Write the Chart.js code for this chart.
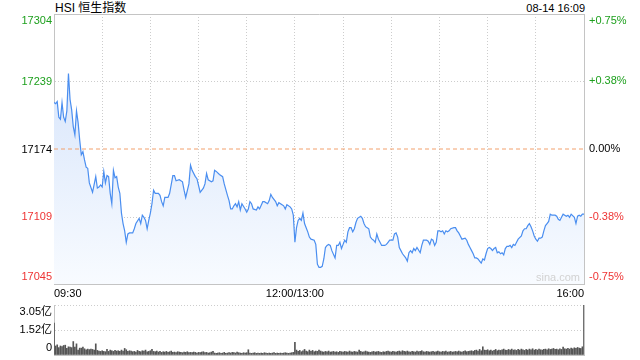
<!DOCTYPE html>
<html><head><meta charset="utf-8">
<script src="https://cdn.jsdelivr.net/npm/chart.js@4.4.0/dist/chart.umd.min.js"></script>
<style>
html,body{margin:0;padding:0;background:#fff;width:640px;height:360px;overflow:hidden;}
#wrap{position:relative;width:640px;height:360px;font-family:"Liberation Sans","Noto Sans CJK SC",sans-serif;}
canvas{position:absolute;left:0;}
#title{position:absolute;left:55px;top:1px;font-size:12px;line-height:14px;color:#000;white-space:nowrap;}
#stamp{position:absolute;right:55px;top:2px;font-size:11px;line-height:13px;color:#000;white-space:nowrap;}
#mark{position:absolute;left:536px;top:271px;font-size:11px;line-height:13px;color:#d2d2d2;}
</style></head>
<body><div id="wrap">
<div id="title">HSI 恒生指数</div>
<div id="stamp">08-14 16:09</div>
<canvas id="main" width="640" height="300" style="top:0"></canvas>
<canvas id="vol" width="640" height="60" style="top:300px"></canvas>
<div id="mark">sina.com</div>
</div>
<script>
// ---- data ----
const prevClose = 17174.5;
const priceTicks = [17045, 17109, 17174, 17239, 17304];
const pctTicks = [-0.75, -0.38, 0, 0.38, 0.75];
const pctLabels = ['-0.75%', '-0.38%', '0.00%', '+0.38%', '+0.75%'];
const timeTicks = [0, 30, 60, 90, 120, 150, 180, 210, 240, 270, 300, 330];
const timeLabelAt = [0, 150, 330];
const timeLabels = ['09:30', '12:00/13:00', '16:00'];
const volTicks = [0, 1.52, 3.05];
const volLabels = ['0', '1.52亿', '3.05亿'];

// [minute since 09:30 (trading minutes), index level]
const morning = [
[0,17219],[1,17218],[2,17220],[3,17205],[4,17203],[5,17219],[6,17205],[7,17201],[8,17211],[9,17247],
[10,17222],[11,17212],[12,17196],[13,17188],[14,17211],[15,17200],[16,17183],[17,17169],[18,17172],[19,17164],
[20,17157],[21,17156],[22,17142],[24,17133],[26,17148],[27,17137],[28,17138],[29,17140],[30,17138],[31,17153],
[32,17142],[33,17149],[34,17148],[35,17132],[36,17122],[37,17154],[38,17147],[39,17148],[40,17138],[41,17132],
[42,17113],[43,17103],[44,17096],[45,17085],[46,17093],[47,17094],[49,17094],[50,17098],[51,17103],[53,17108],
[54,17103],[55,17111],[56,17109],[57,17106],[58,17098],[59,17106],[60,17113],[61,17122],[62,17135],[63,17132],
[65,17132],[66,17130],[67,17124],[68,17120],[69,17128],[71,17128],[72,17132],[74,17149],[75,17149],[76,17144],
[78,17145],[80,17143],[81,17135],[82,17128],[84,17141],[85,17159],[86,17154],[88,17148],[89,17146],[91,17133],
[93,17137],[94,17141],[95,17151],[96,17145],[98,17143],[99,17144],[100,17154],[101,17153],[103,17150],[105,17148],
[106,17141],[108,17130],[109,17125],[110,17117],[111,17117],[112,17120],[113,17122],[114,17119],[115,17124],[116,17116],
[117,17122],[119,17117],[120,17114],[121,17117],[122,17124],[123,17122],[124,17117],[126,17116],[127,17119],[128,17117],
[130,17124],[131,17124],[133,17122],[134,17125],[135,17131],[136,17128],[138,17124],[139,17120],[140,17123],[142,17121],
[143,17120],[144,17117],[145,17121],[147,17119],[148,17117],[149,17111]
];
const afternoon = [
[150,17085],[151,17099],[152,17106],[153,17108],[154,17106],[155,17113],[156,17103],[157,17099],[158,17095],[159,17090],
[160,17088],[162,17087],[163,17083],[164,17064],[165,17061],[166,17061],[167,17062],[168,17069],[169,17080],[170,17082],
[171,17083],[172,17082],[173,17077],[175,17070],[176,17082],[177,17082],[178,17085],[179,17079],[180,17083],[181,17087],
[182,17085],[183,17095],[184,17099],[185,17099],[186,17095],[187,17098],[188,17104],[189,17108],[191,17110],[192,17108],
[193,17103],[194,17100],[195,17099],[196,17098],[197,17090],[198,17088],[199,17087],[200,17085],[201,17093],[202,17088],
[203,17085],[204,17082],[206,17082],[207,17083],[208,17085],[209,17087],[211,17087],[212,17093],[213,17094],[214,17090],
[215,17080],[216,17077],[217,17074],[219,17070],[220,17067],[221,17075],[222,17077],[223,17075],[224,17079],[225,17077],
[226,17080],[228,17075],[229,17082],[230,17087],[231,17087],[232,17087],[233,17086],[234,17083],[235,17088],[236,17087],
[237,17082],[238,17085],[239,17096],[240,17096],[241,17095],[242,17096],[243,17093],[244,17096],[245,17095],[246,17096],
[247,17098],[249,17099],[250,17099],[251,17096],[252,17094],[253,17091],[254,17088],[256,17089],[257,17087],[258,17083],
[259,17080],[260,17077],[261,17074],[262,17070],[263,17070],[264,17069],[265,17067],[266,17065],[267,17069],[268,17068],
[269,17074],[270,17079],[271,17080],[272,17079],[273,17077],[274,17079],[275,17080],[276,17075],[277,17076],[278,17074],
[279,17075],[280,17073],[281,17079],[282,17081],[283,17081],[284,17082],[285,17080],[286,17083],[287,17082],[288,17085],
[289,17088],[291,17091],[292,17096],[293,17098],[294,17098],[295,17101],[296,17103],[297,17100],[298,17096],[299,17091],
[300,17088],[301,17086],[302,17089],[303,17089],[304,17090],[305,17096],[306,17101],[307,17103],[308,17105],[309,17112],
[310,17111],[311,17111],[312,17111],[313,17110],[314,17107],[315,17106],[316,17109],[317,17112],[318,17111],[319,17110],
[320,17111],[321,17109],[322,17112],[324,17109],[325,17103],[326,17110],[327,17111],[328,17110],[329,17112],[330,17112]
];

// volume per minute, 亿 (minutes 0..149, then 150..330)
const volAM = [
1.95,0.55,0.62,0.45,0.55,0.52,0.58,0.60,0.40,0.50,
0.48,0.45,0.82,0.48,0.68,0.30,0.42,0.42,0.48,0.38,
0.32,0.36,0.33,0.36,0.34,0.30,0.68,0.28,0.24,0.22,
0.26,0.22,0.20,0.34,0.22,0.30,0.26,0.22,0.28,0.24,
0.26,0.22,0.30,0.24,0.40,0.32,0.22,0.26,0.24,0.20,
0.22,0.18,0.28,0.22,0.20,0.26,0.24,0.30,0.20,0.22,
0.26,0.34,0.22,0.20,0.24,0.18,0.22,0.16,0.20,0.18,
0.22,0.16,0.20,0.24,0.16,0.18,0.15,0.20,0.18,0.16,
0.14,0.18,0.16,0.20,0.14,0.16,0.14,0.18,0.16,0.12,
0.16,0.14,0.18,0.20,0.14,0.16,0.12,0.14,0.18,0.22,
0.12,0.10,0.12,0.14,0.10,0.12,0.16,0.10,0.12,0.14,
0.12,0.16,0.14,0.12,0.18,0.14,0.12,0.10,0.14,0.12,
0.14,0.32,0.12,0.10,0.12,0.14,0.10,0.12,0.10,0.12,
0.10,0.14,0.12,0.10,0.12,0.10,0.12,0.14,0.10,0.12,
0.10,0.12,0.10,0.12,0.14,0.12,0.10,0.12,0.14,0.16
];
const volPM = [
0.78,0.30,0.22,0.28,0.20,0.26,0.34,0.24,0.20,0.30,
0.22,0.28,0.20,0.24,0.22,0.30,0.24,0.20,0.18,0.22,
0.20,0.24,0.18,0.20,0.22,0.18,0.20,0.16,0.22,0.20,
0.18,0.22,0.20,0.18,0.24,0.20,0.18,0.22,0.20,0.18,
0.30,0.22,0.18,0.20,0.24,0.20,0.18,0.16,0.20,0.22,
0.18,0.20,0.22,0.18,0.16,0.20,0.18,0.22,0.24,0.20,
0.18,0.22,0.20,0.18,0.22,0.24,0.20,0.26,0.22,0.20,
0.24,0.20,0.18,0.22,0.20,0.18,0.24,0.20,0.22,0.26,
0.20,0.18,0.22,0.20,0.18,0.20,0.22,0.18,0.20,0.24,
0.20,0.18,0.22,0.20,0.24,0.18,0.20,0.22,0.18,0.20,
0.22,0.20,0.24,0.20,0.18,0.22,0.26,0.20,0.22,0.24,
0.26,0.22,0.28,0.30,0.24,0.34,0.26,0.50,0.30,0.28,
0.32,0.26,0.30,0.24,0.28,0.34,0.26,0.30,0.28,0.32,
0.36,0.30,0.28,0.34,0.30,0.36,0.30,0.32,0.28,0.34,
0.30,0.36,0.32,0.28,0.34,0.30,0.36,0.32,0.38,0.30,
0.34,0.30,0.36,0.32,0.30,0.34,0.36,0.32,0.38,0.34,
0.36,0.40,0.34,0.36,0.32,0.38,0.34,0.48,0.38,0.36,
0.40,0.36,0.42,0.38,0.44,0.40,0.46,0.42,0.40,0.50,
3.05
];

// ---- styling ----
Chart.defaults.font.family = '"Liberation Sans","Noto Sans CJK SC",sans-serif';
Chart.defaults.font.size = 11;
Chart.defaults.color = '#000';
const GREEN = '#1ea01e', RED = '#ee3333', GRID = '#cdcdcd', FRAME = '#c4c4c4';
const xMin = timeTicks[0], xMax = timeTicks[timeTicks.length - 1];
const yMin = priceTicks[0], yMax = priceTicks[priceTicks.length - 1];
const pMin = (yMin / prevClose - 1) * 100, pMax = (yMax / prevClose - 1) * 100;

function priceColor(v){ return v > prevClose + 1 ? GREEN : (v < prevClose - 1 ? RED : '#000'); }
function pctColor(v){ return v > 0.01 ? GREEN : (v < -0.01 ? RED : '#000'); }
function edgeLabel(text, i, n){ if (i === n - 1) return ['', text]; if (i === 0) return [text, '']; return text; }
function fixWidth(w){ return s => { s.width = w; s.paddingTop = 0; s.paddingBottom = 0; }; }

const fillGrad = (ctx) => {
  const ch = ctx.chart, ca = ch.chartArea;
  if (!ca) return 'rgba(220,232,252,1)';
  const g = ch.ctx.createLinearGradient(0, ca.top, 0, ca.bottom);
  g.addColorStop(0, 'rgba(208,224,250,1)');
  g.addColorStop(1, 'rgba(248,251,255,1)');
  return g;
};

const series = morning.concat(afternoon).map(p => ({x: p[0], y: p[1]}));

new Chart(document.getElementById('main'), {
  type: 'line',
  data: { datasets: [
    { data: series, borderColor: '#4a8ef0', borderWidth: 1.2, pointRadius: 0, tension: 0,
      fill: 'start', backgroundColor: fillGrad, xAxisID: 'x', yAxisID: 'y' },
    { data: [{x: xMin, y: prevClose}, {x: xMax, y: prevClose}], borderColor: '#f2a06c', borderWidth: 1,
      borderDash: [4, 3], pointRadius: 0, fill: false, xAxisID: 'x', yAxisID: 'y' }
  ]},
  options: {
    responsive: false, animation: false, devicePixelRatio: 1,
    layout: { padding: 0 },
    plugins: { legend: {display: false}, tooltip: {enabled: false}, filler: {drawTime: 'beforeDatasetsDraw'} },
    scales: {
      x: { type: 'linear', position: 'bottom', min: xMin, max: xMax,
        afterBuildTicks: s => { s.ticks = timeTicks.map(v => ({value: v})); },
        afterFit: s => { s.height = 16; },
        ticks: { autoSkip: false, maxRotation: 0, minRotation: 0, align: 'inner', padding: 3,
          callback: v => { const i = timeLabelAt.indexOf(v); return i >= 0 ? timeLabels[i] : ''; } },
        grid: { drawTicks: false, color: c => (c.tick && c.tick.value > xMin && c.tick.value < xMax) ? GRID : 'transparent' },
        border: { display: true, color: FRAME, dash: [1, 2] } },
      xTop: { type: 'linear', position: 'top', min: xMin, max: xMax,
        afterFit: s => { s.height = 14; },
        ticks: { display: false }, grid: { display: false, drawTicks: false },
        border: { display: true, color: FRAME } },
      y: { type: 'linear', position: 'left', min: yMin, max: yMax,
        afterBuildTicks: s => { s.ticks = priceTicks.map(v => ({value: v})); },
        afterFit: fixWidth(54),
        ticks: { autoSkip: false, padding: 2, color: c => priceColor(c.tick.value),
          callback: (v, i, t) => edgeLabel(String(v), i, t.length) },
        grid: { drawTicks: false, color: c => {
          const v = c.tick ? c.tick.value : yMin;
          return (v > yMin && v < yMax && Math.abs(v - prevClose) > 1) ? GRID : 'transparent'; } },
        border: { display: true, color: FRAME, dash: [1, 2] } },
      yPct: { type: 'linear', position: 'right', min: pMin, max: pMax,
        afterBuildTicks: s => { s.ticks = pctTicks.map(v => ({value: v})); },
        afterFit: fixWidth(56),
        ticks: { autoSkip: false, padding: 5, color: c => pctColor(c.tick.value),
          callback: (v, i, t) => edgeLabel(pctLabels[i], i, t.length) },
        grid: { display: false, drawOnChartArea: false, drawTicks: false },
        border: { display: true, color: FRAME } }
    }
  }
});

const volumes = volAM.concat(volPM);
new Chart(document.getElementById('vol'), {
  type: 'bar',
  data: { datasets: [
    { data: volumes.map((v, i) => ({x: i, y: v})), backgroundColor: '#555555', borderWidth: 0,
      barThickness: 1, xAxisID: 'x', yAxisID: 'y' }
  ]},
  options: {
    responsive: false, animation: false, devicePixelRatio: 1,
    layout: { padding: { top: 5 } },
    plugins: { legend: {display: false}, tooltip: {enabled: false} },
    scales: {
      x: { type: 'linear', min: xMin, max: xMax, offset: false,
        afterFit: s => { s.height = 5; },
        ticks: { display: false }, grid: { display: false, offset: false, drawTicks: false },
        border: { display: true, color: FRAME } },
      y: { type: 'linear', position: 'left', min: volTicks[0], max: volTicks[volTicks.length - 1],
        afterBuildTicks: s => { s.ticks = volTicks.map(v => ({value: v})); },
        afterFit: fixWidth(54),
        ticks: { autoSkip: false, padding: 2, color: '#000', callback: (v, i, t) => edgeLabel(volLabels[i], i, t.length) },
        grid: { drawTicks: false, color: c => (c.tick && c.tick.value > 0) ? GRID : 'transparent' },
        border: { display: true, color: FRAME, dash: [1, 2] } },
      y2: { type: 'linear', position: 'right', min: volTicks[0], max: volTicks[volTicks.length - 1],
        afterFit: fixWidth(56),
        ticks: { display: false }, grid: { display: false, drawTicks: false },
        border: { display: true, color: FRAME } }
    }
  }
});
</script>
</body></html>
